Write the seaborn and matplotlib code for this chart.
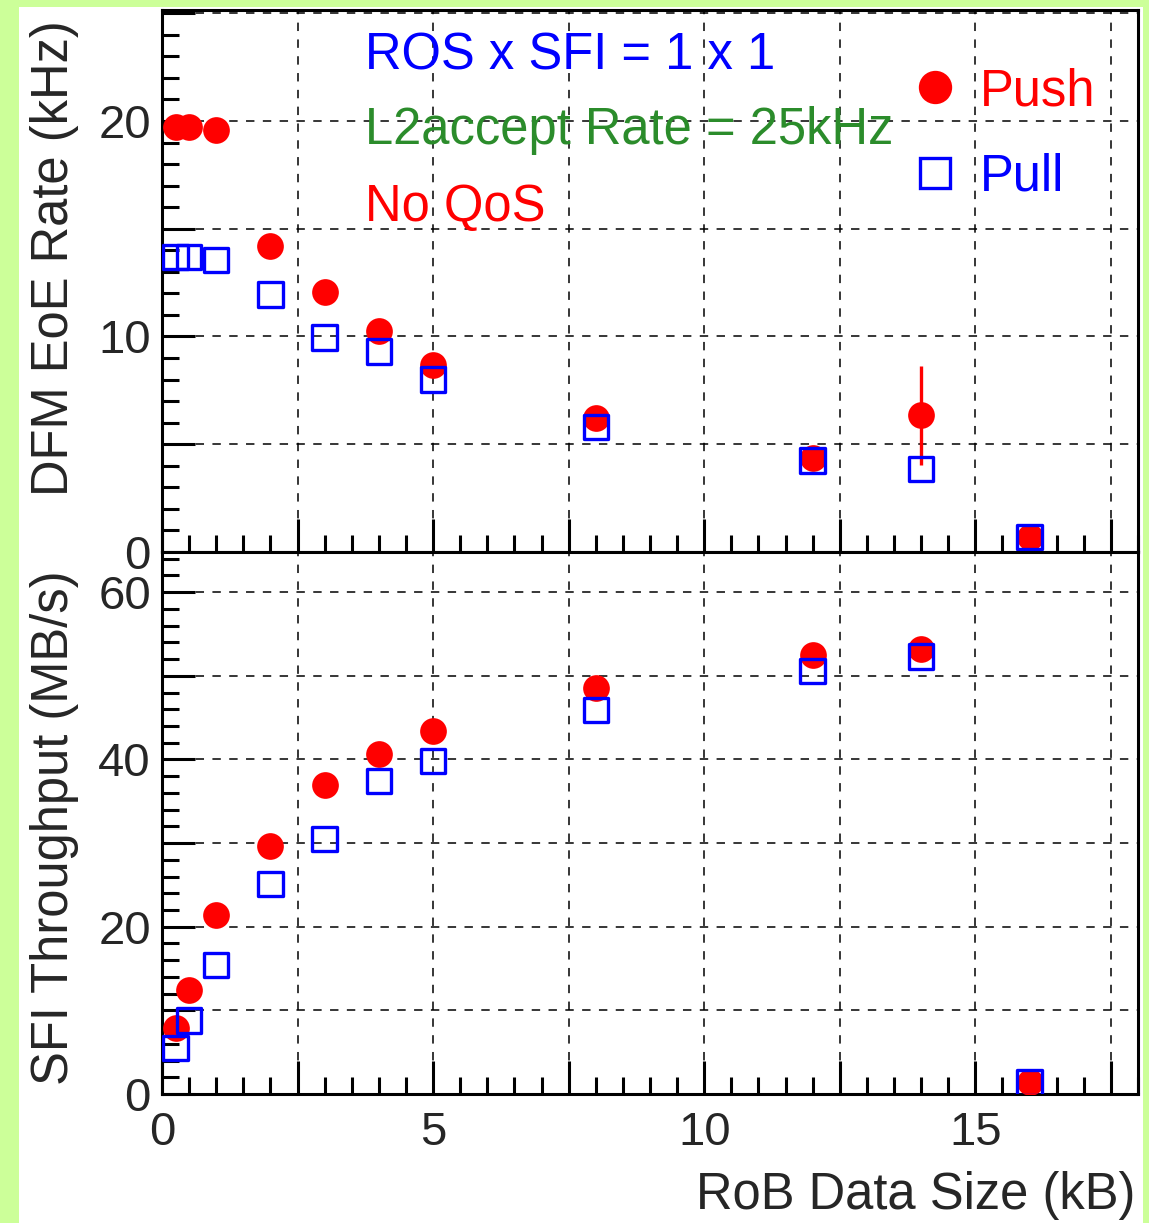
import numpy as np
import pandas as pd
import matplotlib
matplotlib.use("Agg")
import matplotlib.pyplot as plt
import seaborn as sns
from matplotlib.patches import Rectangle
from matplotlib.lines import Line2D
from matplotlib.ticker import MultipleLocator, FuncFormatter

# ---------------- data ----------------
x_kb = [0.25, 0.5, 1, 2, 3, 4, 5, 8, 12, 14, 16]
rate_push = [19.7, 19.7, 19.6, 14.2, 12.05, 10.25, 8.7, 6.2, 4.35, 6.35, 0.7]
rate_push_err = [0, 0, 0, 0, 0, 0, 0, 0, 0, 2.3, 0]
rate_pull = [13.7, 13.7, 13.55, 11.95, 9.95, 9.3, 8.0, 5.8, 4.25, 3.85, 0.7]
thr_push = [7.9, 12.4, 21.4, 29.6, 36.9, 40.6, 43.4, 48.5, 52.5, 53.2, 1.4]
thr_pull = [5.5, 8.8, 15.4, 25.1, 30.5, 37.4, 39.8, 45.9, 50.6, 52.3, 1.4]

x_label = "RoB Data Size (kB)"
y_label_top = "DFM EoE Rate (kHz)"
y_label_bot = "SFI Throughput (MB/s)"
legend_labels = ["Push", "Pull"]
notes = ["ROS x SFI = 1 x 1", "L2accept Rate = 25kHz", "No QoS"]

# ---------------- style ----------------
sns.set_style("ticks")
plt.rcParams['font.family'] = ['Liberation Sans', 'DejaVu Sans']

RED = '#ff0000'
BLUE = '#0000ff'
GREEN = '#2b8c2b'
FS_LABEL = 36.5
FS_TICK = 34

W, H = 1149, 1223
fig = plt.figure(figsize=(W / 100, H / 100), dpi=100)
fig.patch.set_facecolor('#ccff99')
fig.add_artist(Rectangle((19 / W, 0), (1143 - 19) / W, 1 - 7 / H,
                         transform=fig.transFigure, facecolor='white',
                         edgecolor='none', zorder=-1))

left = 162 / W
width = (1138 - 162) / W
ax_top = fig.add_axes([left, 1 - 552 / H, width, (552 - 10) / H])
ax_bot = fig.add_axes([left, 1 - 1094 / H, width, (1094 - 552) / H])

df_rate = pd.DataFrame({"x": x_kb, "push": rate_push, "pull": rate_pull, "err": rate_push_err})
df_thr = pd.DataFrame({"x": x_kb, "push": thr_push, "pull": thr_pull})


def draw(ax, df, err=False):
    if err:
        ax.errorbar(df["x"], df["push"], yerr=df["err"], fmt='none',
                    ecolor=RED, elinewidth=2.4, capsize=0, zorder=3)
    sns.scatterplot(data=df, x="x", y="push", ax=ax, marker='o', s=370,
                    color=RED, linewidth=0, zorder=4, legend=False)
    sns.scatterplot(data=df, x="x", y="pull", ax=ax, marker='s', s=310,
                    color=BLUE, zorder=5, legend=False)
    pts = ax.collections[-1]
    pts.set_facecolor('none')
    pts.set_edgecolor(BLUE)
    pts.set_linewidth(2.4)


draw(ax_top, df_rate, err=True)
draw(ax_bot, df_thr)

ax_top.set_ylim(0, 25.15)
ax_bot.set_ylim(0, 64.8)

for ax, ymaj, ymin, ylab_every in [(ax_top, 5, 1, 10), (ax_bot, 10, 2, 20)]:
    ax.set_facecolor('white')
    ax.set_xlim(0, 18)
    ax.set_xlabel("")
    ax.set_ylabel("")
    ax.xaxis.set_major_locator(MultipleLocator(2.5))
    ax.xaxis.set_minor_locator(MultipleLocator(0.5))
    ax.yaxis.set_major_locator(MultipleLocator(ymaj))
    ax.yaxis.set_minor_locator(MultipleLocator(ymin))
    ax.yaxis.set_major_formatter(FuncFormatter(
        lambda v, p, e=ylab_every: f"{v:.0f}" if abs(v / e - round(v / e)) < 1e-6 else ""))
    ax.xaxis.set_major_formatter(FuncFormatter(
        lambda v, p: f"{v:.0f}" if abs(v / 5 - round(v / 5)) < 1e-6 else ""))
    ax.tick_params(which='both', direction='in', top=False, right=False,
                   width=2.2, color='black', labelsize=FS_TICK)
    ax.tick_params(which='major', length=24)
    ax.tick_params(which='minor', length=12)
    ax.tick_params(axis='y', pad=8)
    ax.tick_params(axis='x', pad=12)
    for sp in ax.spines.values():
        sp.set_linewidth(2.2)
        sp.set_color('black')
    ax.grid(True, which='major', color='black', linestyle=(0, (5.5, 5.5)), linewidth=1.1)
    ax.set_axisbelow(True)

ax_top.tick_params(axis='x', labelbottom=False)

# annotations
ax_top.text(0.208, 0.916, notes[0], transform=ax_top.transAxes, color=BLUE,
            fontsize=FS_LABEL, ha='left', va='center')
ax_top.text(0.208, 0.777, notes[1], transform=ax_top.transAxes, color=GREEN,
            fontsize=FS_LABEL, ha='left', va='center')
ax_top.text(0.208, 0.635, notes[2], transform=ax_top.transAxes, color=RED,
            fontsize=FS_LABEL, ha='left', va='center')

# legend
handles = [Line2D([], [], marker='o', linestyle='none', markersize=24,
                  markerfacecolor=RED, markeredgecolor=RED, markeredgewidth=0),
           Line2D([], [], marker='s', linestyle='none', markersize=22,
                  markerfacecolor='none', markeredgecolor=BLUE, markeredgewidth=2.4)]
leg = ax_top.legend(handles, legend_labels, loc='upper left',
                    bbox_to_anchor=((910 - 162) / 976, 1 - (67 - 10) / 542),
                    frameon=False, fontsize=FS_LABEL, handlelength=1.0,
                    handletextpad=0.38, labelspacing=0.72, borderpad=0,
                    borderaxespad=0)
for t, c in zip(leg.get_texts(), [RED, BLUE]):
    t.set_color(c)

# axis labels
fig.text(55 / W, 1 - 20 / H, y_label_top, rotation=90, ha='right', va='center',
         rotation_mode='anchor', fontsize=FS_LABEL)
fig.text(55 / W, 1 - 570 / H, y_label_bot, rotation=90, ha='right', va='center',
         rotation_mode='anchor', fontsize=FS_LABEL)
fig.text(1135 / W, 1 - 1196 / H, x_label, ha='right', va='center', fontsize=FS_LABEL)

fig.savefig("out.png", dpi=100, facecolor=fig.get_facecolor())
